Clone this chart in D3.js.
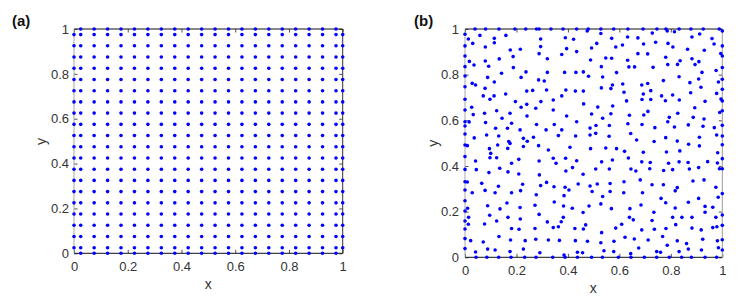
<!DOCTYPE html>
<html>
<head>
<meta charset="utf-8">
<script src="https://cdn.jsdelivr.net/npm/d3@7"></script>
<style>
  html, body { margin: 0; padding: 0; background: #ffffff; }
  svg { display: block; }
</style>
</head>
<body>
<svg id="chart" width="750" height="299"></svg>
<script>
// ---------- DATA ----------
const panelLabels = ["(a)", "(b)"];
const axisLabelX = "x";
const axisLabelY = "y";
const tickValues = [0, 0.2, 0.4, 0.6, 0.8, 1];
const tickLabels = ["0", "0.2", "0.4", "0.6", "0.8", "1"];

// (a) regular grid: cell centres plus boundary points
const gridInner = [0.025, 0.075, 0.125, 0.175, 0.225, 0.275, 0.325, 0.375, 0.425, 0.475,
                   0.525, 0.575, 0.625, 0.675, 0.725, 0.775, 0.825, 0.875, 0.925, 0.975];
const gridEdges = [0, 1];

// (b) scattered points [x, y]
const scatterPoints = [
  // upper-left
  [0.039,1],[0.080,1],[0.132,1],[0.194,1],[0.236,1],[0.278,1],[0.288,1],[0.334,1],[0.381,1],[0.434,1],
  [0,0.977],[0,0.926],[0,0.882],[0,0.835],[0,0.794],[0,0.747],[0,0.692],[0,0.645],[0,0.594],[0,0.575],
  [0.013,0.956],[0.058,0.972],[0.030,0.937],[0.114,0.959],[0.114,0.940],[0.159,0.972],[0.079,0.921],[0.176,0.908],
  [0.187,0.879],[0.215,0.911],[0.294,0.956],[0.390,0.962],[0.422,0.955],[0.434,0.901],[0.395,0.914],[0.294,0.923],
  [0.288,0.892],[0.320,0.870],[0.376,0.888],
  [0.017,0.858],[0.035,0.842],[0.079,0.860],[0.092,0.837],[0.133,0.869],[0.188,0.831],[0.237,0.812],[0.142,0.806],
  [0.088,0.788],[0.218,0.788],[0.320,0.810],[0.387,0.810],[0.431,0.810],
  [0.286,0.777],[0.308,0.772],[0.114,0.768],[0.028,0.762],[0.041,0.755],[0.078,0.740],[0.317,0.733],[0.392,0.733],
  [0.429,0.728],[0.240,0.728],[0.263,0.731],[0.158,0.715],[0.113,0.707],[0.071,0.707],[0.376,0.707],
  [0.097,0.692],[0.343,0.689],[0.196,0.682],[0.295,0.682],[0.240,0.670],[0.026,0.657],[0.218,0.657],[0.275,0.653],
  [0.343,0.645],[0.123,0.642],[0.076,0.631],[0.175,0.631],[0.032,0.625],[0.241,0.619],[0.395,0.619],[0.144,0.609],
  [0.016,0.593],[0.434,0.594],[0.080,0.590],[0.181,0.587],[0.278,0.582],[0.347,0.582],[0.119,0.565],[0.165,0.565],
  [0.214,0.558],[0.315,0.558],[0.376,0.558],
  // upper-right
  [0.479,1],[0.528,1],[0.578,1],[0.633,1],[0.692,1],[0.746,1],[0.781,1],[0.832,1],[0.878,1],[0.926,1],[0.988,1],
  [0.786,0.991],[0.475,0.991],
  [1,0.991],[1,0.926],[1,0.882],[1,0.831],[1,0.780],[1,0.736],[1,0.685],[1,0.642],[1,0.578],
  [0.994,0.893],[0.995,0.693],[0.990,0.634],
  [0.528,0.980],[0.570,0.959],[0.632,0.965],[0.672,0.961],[0.728,0.982],[0.814,0.988],[0.882,0.965],[0.912,0.978],
  [0.960,0.958],[0.968,0.934],
  [0.512,0.937],[0.492,0.917],[0.586,0.921],[0.612,0.930],[0.694,0.934],[0.741,0.942],[0.789,0.937],[0.808,0.921],
  [0.865,0.911],[0.930,0.907],
  [0.488,0.864],[0.547,0.873],[0.570,0.872],[0.632,0.863],[0.672,0.892],[0.710,0.891],[0.780,0.876],[0.788,0.844],
  [0.826,0.845],[0.836,0.861],[0.882,0.870],[0.894,0.844],[0.909,0.857],
  [0.530,0.835],[0.637,0.834],[0.659,0.834],[0.731,0.832],[0.460,0.812],[0.589,0.809],[0.535,0.790],[0.480,0.793],
  [0.921,0.810],[0.976,0.818],[0.985,0.768],[0.832,0.791],[0.771,0.774],[0.874,0.765],[0.908,0.781],
  [0.530,0.742],[0.567,0.739],[0.573,0.755],[0.613,0.759],[0.687,0.755],[0.710,0.761],[0.460,0.728],[0.618,0.723],
  [0.693,0.715],[0.722,0.730],[0.807,0.711],[0.877,0.721],[0.917,0.745],[0.978,0.718],
  [0.461,0.672],[0.628,0.685],[0.688,0.691],[0.722,0.691],[0.764,0.707],[0.779,0.686],[0.833,0.689],[0.933,0.683],
  [0.516,0.658],[0.574,0.663],[0.893,0.655],
  [0.492,0.628],[0.535,0.609],[0.567,0.629],[0.639,0.622],[0.695,0.623],[0.711,0.639],[0.794,0.613],[0.827,0.631],
  [0.887,0.613],[0.929,0.606],
  [0.486,0.566],[0.509,0.577],[0.561,0.577],[0.633,0.585],[0.688,0.582],[0.738,0.568],[0.788,0.594],[0.814,0.571],
  [0.868,0.580],[0.925,0.574],[0.969,0.568],
  // lower-right
  [0.486,0.536],[0.508,0.543],[0.560,0.530],[0.644,0.542],[0.780,0.524],[0.911,0.526],[0.978,0.536],[1,0.531],
  [1,0.493],[0.667,0.514],[0.735,0.507],
  [0.488,0.476],[0.547,0.479],[0.589,0.476],[0.620,0.464],[0.693,0.460],[0.783,0.461],[0.825,0.509],[0.835,0.466],
  [0.869,0.495],[0.911,0.488],[0.982,0.458],[1,0.432],
  [0.459,0.364],[0.508,0.387],[0.531,0.418],[0.561,0.387],[0.573,0.426],[0.635,0.435],[0.645,0.387],[0.664,0.378],
  [0.687,0.418],[0.720,0.415],[0.718,0.388],[0.772,0.380],[0.791,0.412],[0.807,0.384],[0.832,0.418],[0.867,0.415],
  [0.872,0.387],[0.908,0.393],[0.943,0.419],[0.981,0.413],[0.989,0.388],[1,0.388],
  [0.486,0.312],[0.514,0.321],[0.564,0.323],[0.618,0.331],[0.681,0.339],[0.690,0.283],[0.494,0.288],[0.535,0.266],
  [0.564,0.288],[0.617,0.283],[0.727,0.318],[0.771,0.318],[0.762,0.258],[0.780,0.239],[0.817,0.291],[0.825,0.305],
  [0.886,0.334],[0.929,0.339],[0.908,0.258],[0.868,0.241],[0.975,0.307],[1,0.279],[0.984,0.263],
  [0.459,0.196],[0.482,0.225],[0.528,0.234],[0.569,0.213],[0.641,0.213],[0.639,0.175],[0.654,0.164],[0.684,0.229],
  [0.727,0.161],[0.734,0.197],[0.807,0.175],[0.817,0.216],[0.843,0.175],[0.882,0.175],[0.933,0.223],[0.933,0.197],
  [0.963,0.219],[0.975,0.175],[1,0.185],[1,0.140],
  [0.460,0.124],[0.531,0.108],[0.586,0.128],[0.609,0.145],[0.687,0.120],[0.736,0.123],[0.781,0.126],[0.819,0.143],
  [0.882,0.128],[0.918,0.120],[0.963,0.130],[0.979,0.134],
  [0.476,0.070],[0.528,0.064],[0.579,0.070],[0.622,0.088],[0.658,0.080],[0.712,0.076],[0.768,0.091],[0.786,0.053],
  [0.825,0.072],[0.861,0.060],[0.924,0.079],[0.981,0.072],[1,0.077],[0.985,0.042],[1,0.032],
  [0.457,0.020],[0.540,0.029],[0.578,0.025],[0.644,0.016],[0.675,0.041],[0.745,0.025],[0.760,0.022],[0.832,0.025],
  [0.868,0.036],[0.919,0.032],
  [0.492,0],[0.534,0],[0.596,0],[0.645,0],[0.697,0],[0.745,0],[0.794,0],[0.842,0],[0.880,0],[0.933,0],[0.978,0],
  // lower-left
  [0,0.540],[0,0.492],[0,0.441],[0,0.385],[0,0.331],[0,0.295],[0,0.248],[0,0.203],[0,0.159],[0,0.124],[0,0.082],[0,0.038],
  [0.009,0.489],[0.009,0.330],[0.010,0.215],[0.014,0.175],[0.013,0.145],[0.022,0.073],
  [0.036,0.523],[0.084,0.536],[0.131,0.531],[0.170,0.507],[0.175,0.499],[0.227,0.521],[0.266,0.526],[0.363,0.533],
  [0.430,0.531],
  [0.095,0.476],[0.127,0.492],[0.100,0.455],[0.166,0.477],[0.242,0.508],[0.227,0.485],[0.286,0.489],[0.324,0.470],
  [0.408,0.482],
  [0.041,0.422],[0.097,0.436],[0.123,0.436],[0.181,0.412],[0.209,0.429],[0.044,0.384],[0.093,0.371],[0.135,0.390],
  [0.167,0.374],[0.209,0.365],[0.288,0.422],[0.289,0.361],[0.354,0.412],[0.343,0.434],[0.391,0.434],[0.434,0.423],
  [0.392,0.378],[0.418,0.393],
  [0.065,0.324],[0.028,0.283],[0.078,0.293],[0.117,0.283],[0.130,0.311],[0.181,0.283],[0.216,0.292],[0.224,0.320],
  [0.277,0.274],[0.294,0.314],[0.317,0.328],[0.346,0.309],[0.347,0.242],[0.389,0.307],[0.404,0.295],[0.440,0.321],
  [0.385,0.270],
  [0.088,0.226],[0.096,0.184],[0.136,0.212],[0.163,0.238],[0.214,0.218],[0.272,0.228],[0.288,0.188],[0.383,0.225],
  [0.382,0.175],[0.417,0.215],
  [0.076,0.146],[0.123,0.159],[0.132,0.091],[0.167,0.175],[0.181,0.126],[0.210,0.123],[0.215,0.168],[0.272,0.126],
  [0.320,0.155],[0.343,0.130],[0.363,0.134],[0.374,0.156],[0.427,0.126],[0.469,0.142],
  [0.071,0.067],[0.088,0.036],[0.117,0.032],[0.177,0.076],[0.175,0.025],[0.234,0.073],[0.275,0.079],[0.324,0.076],
  [0.367,0.074],[0.429,0.073],
  [0.041,0.023],[0.227,0.036],[0.291,0.020],[0.385,0.010],[0.437,0.022],
  [0.043,0],[0.085,0],[0.131,0],[0.179,0],[0.232,0],[0.276,0],[0.341,0],[0.389,0],[0.437,0]
];

// ---------- BUILD ----------
const gridPoints = [];
gridInner.forEach(gx => gridInner.forEach(gy => gridPoints.push([gx, gy])));
gridEdges.forEach(e => gridInner.forEach(g => { gridPoints.push([e, g]); gridPoints.push([g, e]); }));

const svg = d3.select("#chart");
const FONT = "'Liberation Sans', Arial, Helvetica, sans-serif";
const TXT = "#333333";

const panels = [
  { label: panelLabels[0], pts: gridPoints, x0: 74, x1: 342.7, yTop: 29, yBot: 253.3,
    lab: [12, 26], xlab: [208.3, 288.5], ylab: [45.5, 141.5], xpad: 8.5, ypad: 5, rightCol: "#333" },
  { label: panelLabels[1], pts: scatterPoints, x0: 465, x1: 722.3, yTop: 29, yBot: 257.3,
    lab: [414, 25.5], xlab: [593.3, 293], ylab: [438, 143.3], xpad: 8, ypad: 6, rightCol: "#9a9a9a" }
];

panels.forEach(p => {
  const x = d3.scaleLinear().domain([0, 1]).range([p.x0, p.x1]);
  const y = d3.scaleLinear().domain([0, 1]).range([p.yBot, p.yTop]);
  const fmt = (d) => tickLabels[tickValues.indexOf(d)];
  const g = svg.append("g");

  const TS = -3.5;
  const bottom = g.append("g").attr("transform", `translate(0,${p.yBot})`)
    .call(d3.axisBottom(x).tickValues(tickValues).tickFormat(fmt).tickSizeInner(TS).tickSizeOuter(0).tickPadding(p.xpad));
  const left = g.append("g").attr("transform", `translate(${p.x0},0)`)
    .call(d3.axisLeft(y).tickValues(tickValues).tickFormat(fmt).tickSizeInner(TS).tickSizeOuter(0).tickPadding(p.ypad));
  const top = g.append("g").attr("transform", `translate(0,${p.yTop})`)
    .call(d3.axisTop(x).tickValues(tickValues).tickFormat("").tickSizeInner(TS).tickSizeOuter(0));
  const right = g.append("g").attr("transform", `translate(${p.x1},0)`)
    .call(d3.axisRight(y).tickValues(tickValues).tickFormat("").tickSizeInner(TS).tickSizeOuter(0));

  [bottom, left, top, right].forEach(a => {
    a.select(".domain").remove();
    a.selectAll(".tick line").attr("stroke", "#262626").attr("stroke-width", 0.8);
    a.selectAll("text").attr("font-family", FONT).attr("font-size", 13).attr("fill", TXT);
  });

  // box
  g.append("line").attr("x1", p.x0).attr("x2", p.x1).attr("y1", p.yTop).attr("y2", p.yTop)
    .attr("stroke", "#111").attr("stroke-width", 1);
  g.append("line").attr("x1", p.x0).attr("x2", p.x1).attr("y1", p.yBot).attr("y2", p.yBot)
    .attr("stroke", "#111").attr("stroke-width", 1);
  g.append("line").attr("x1", p.x0).attr("x2", p.x0).attr("y1", p.yTop).attr("y2", p.yBot)
    .attr("stroke", "#a8a8a8").attr("stroke-width", 1);
  g.append("line").attr("x1", p.x1).attr("x2", p.x1).attr("y1", p.yTop).attr("y2", p.yBot)
    .attr("stroke", p.rightCol).attr("stroke-width", 1);

  // points
  g.append("g").selectAll("circle").data(p.pts).join("circle")
    .attr("cx", d => x(d[0])).attr("cy", d => y(d[1])).attr("r", 1.8)
    .attr("fill", "#0000ff");

  // labels
  g.append("text").attr("x", p.xlab[0]).attr("y", p.xlab[1]).attr("text-anchor", "middle")
    .attr("font-family", FONT).attr("font-size", 14).attr("fill", TXT).text(axisLabelX);
  g.append("text").attr("transform", `translate(${p.ylab[0]},${p.ylab[1]}) rotate(-90)`)
    .attr("text-anchor", "middle").attr("font-family", FONT).attr("font-size", 14).attr("fill", TXT).text(axisLabelY);
  g.append("text").attr("x", p.lab[0]).attr("y", p.lab[1])
    .attr("font-family", FONT).attr("font-size", 15).attr("font-weight", "bold").attr("fill", "#111").text(p.label);
});
</script>
</body>
</html>
